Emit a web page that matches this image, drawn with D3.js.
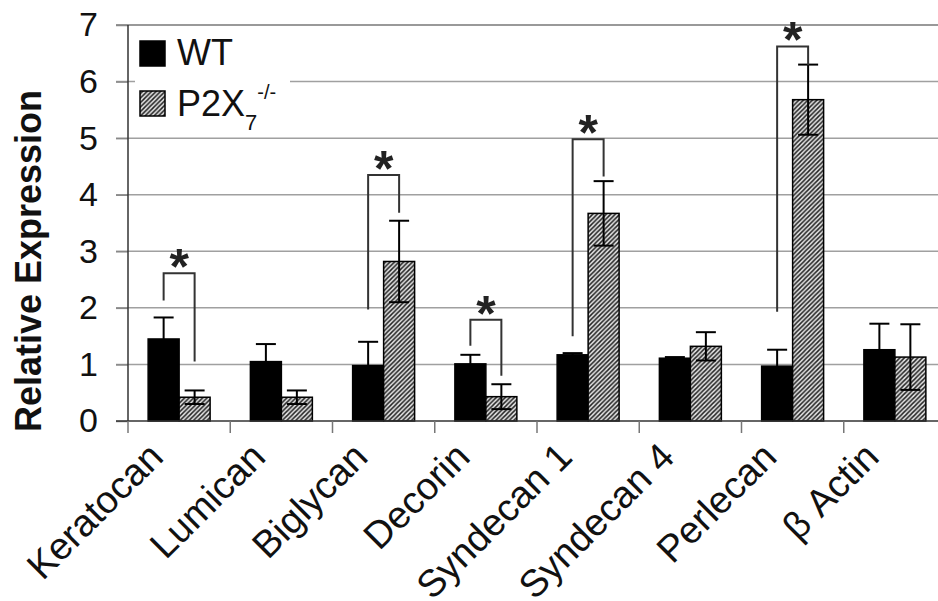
<!DOCTYPE html>
<html>
<head>
<meta charset="utf-8">
<script src="https://cdn.jsdelivr.net/npm/d3@7"></script>
<style>
  body { margin: 0; background: #fff; }
  svg { display: block; font-family: "Liberation Sans", Arial, sans-serif; }
</style>
</head>
<body>
<svg width="938" height="601"></svg>
<script>
// data
const genes = ['Keratocan', 'Lumican', 'Biglycan', 'Decorin', 'Syndecan 1', 'Syndecan 4', 'Perlecan', 'β Actin'];
const groups = ['WT', 'P2X7'];
const wtMean = [1.45, 1.05, 0.98, 1.01, 1.17, 1.11, 0.97, 1.26];
const wtErr = [0.38, 0.31, 0.42, 0.16, 0.03, 0.02, 0.29, 0.46];
const koMean = [0.42, 0.42, 2.82, 0.43, 3.67, 1.32, 5.68, 1.13];
const koErr = [0.12, 0.12, 0.72, 0.22, 0.57, 0.25, 0.62, 0.58];
const yTicks = [0, 1, 2, 3, 4, 5, 6, 7];

// significance brackets: gene, top of bracket, bottom of WT leg, bottom of KO leg
const sigGene = ['Keratocan', 'Biglycan', 'Decorin', 'Syndecan 1', 'Perlecan'];
const sigTop = [2.61, 4.35, 1.79, 4.98, 6.62];
const sigLeftEnd = [2.13, 1.97, 1.33, 1.50, 1.93];
const sigRightEnd = [1.05, 3.68, 0.80, 4.32, 6.29];

const svg = d3.select('svg');
const width = +svg.attr('width');

const rows = genes.map((g, i) => ({
  gene: g,
  values: [
    { key: 'WT', mean: wtMean[i], err: wtErr[i] },
    { key: 'P2X7', mean: koMean[i], err: koErr[i] }
  ]
}));

/* ---------- scales ---------- */
const x0 = d3.scaleBand().domain(genes).range([128, 946]).paddingInner(0).paddingOuter(0);
const x1 = d3.scaleBand().domain(groups).range([0, x0.bandwidth()]).paddingInner(0).paddingOuter(0.65);
const y = d3.scaleLinear().domain([0, 7]).range([421, 25]);

/* ---------- hatch pattern ---------- */
const defs = svg.append('defs');
const pat = defs.append('pattern')
  .attr('id', 'hatch')
  .attr('patternUnits', 'userSpaceOnUse')
  .attr('width', 4.5).attr('height', 4.5);
pat.append('rect').attr('width', 4.5).attr('height', 4.5).attr('fill', '#e4e4e4');
pat.append('path')
  .attr('d', 'M0,4.5 L4.5,0 M-1,1 L1,-1 M3.5,5.5 L5.5,3.5')
  .attr('stroke', '#222').attr('stroke-width', 1.5);

const fillFor = (k) => k === 'WT' ? '#000' : 'url(#hatch)';

/* ---------- gridlines ---------- */
svg.append('g').selectAll('line')
  .data(yTicks.filter(t => t > 0))
  .join('line')
  .attr('x1', 116).attr('x2', width)
  .attr('y1', d => y(d)).attr('y2', d => y(d))
  .attr('stroke', d => d === 7 ? '#777' : '#a0a0a0')
  .attr('stroke-width', 1.5);

/* ---------- y axis (ticks + labels) ---------- */
const yAxis = svg.append('g')
  .attr('transform', 'translate(128,0)')
  .call(d3.axisLeft(y).tickValues(yTicks).tickSize(12).tickPadding(18).tickFormat(d3.format('d')));
yAxis.select('.domain').remove();
yAxis.selectAll('.tick line').attr('stroke', '#888').attr('stroke-width', 1.5);
yAxis.selectAll('.tick text')
  .attr('font-size', 34)
  .attr('font-family', '"Liberation Sans", Arial, sans-serif')
  .attr('fill', '#111');

/* ---------- bars ---------- */
const gBars = svg.append('g');
const cat = gBars.selectAll('g.cat')
  .data(rows)
  .join('g')
  .attr('class', 'cat')
  .attr('transform', d => `translate(${x0(d.gene)},0)`);

cat.selectAll('rect')
  .data(d => d.values)
  .join('rect')
  .attr('x', d => x1(d.key))
  .attr('y', d => y(d.mean))
  .attr('width', x1.bandwidth())
  .attr('height', d => y(0) - y(d.mean))
  .attr('fill', d => fillFor(d.key))
  .attr('stroke', '#000')
  .attr('stroke-width', 1.5);

// error bars (symmetric)
const err = cat.selectAll('g.err')
  .data(d => d.values)
  .join('g')
  .attr('class', 'err')
  .attr('stroke', '#000')
  .attr('stroke-width', 2);
err.append('line')
  .attr('x1', d => x1(d.key) + x1.bandwidth() / 2)
  .attr('x2', d => x1(d.key) + x1.bandwidth() / 2)
  .attr('y1', d => y(d.mean + d.err))
  .attr('y2', d => y(Math.max(0, d.mean - d.err)));
err.append('line')
  .attr('x1', d => x1(d.key) + x1.bandwidth() / 2 - 10)
  .attr('x2', d => x1(d.key) + x1.bandwidth() / 2 + 10)
  .attr('y1', d => y(d.mean + d.err))
  .attr('y2', d => y(d.mean + d.err));
err.filter(d => d.key === 'P2X7').append('line')
  .attr('x1', d => x1(d.key) + x1.bandwidth() / 2 - 10)
  .attr('x2', d => x1(d.key) + x1.bandwidth() / 2 + 10)
  .attr('y1', d => y(Math.max(0, d.mean - d.err)))
  .attr('y2', d => y(Math.max(0, d.mean - d.err)));

/* ---------- axis lines ---------- */
svg.append('line')
  .attr('x1', 128).attr('x2', 128).attr('y1', y(7)).attr('y2', y(0))
  .attr('stroke', '#333').attr('stroke-width', 1.5);
svg.append('line')
  .attr('x1', 116).attr('x2', width).attr('y1', y(0)).attr('y2', y(0))
  .attr('stroke', '#333').attr('stroke-width', 1.5);

// category separator ticks
svg.append('g').selectAll('line')
  .data(genes)
  .join('line')
  .attr('x1', d => x0(d)).attr('x2', d => x0(d))
  .attr('y1', y(0)).attr('y2', y(0) + 12)
  .attr('stroke', '#777').attr('stroke-width', 1.5);

// category labels, rotated
svg.append('g').selectAll('text')
  .data(genes)
  .join('text')
  .attr('transform', d => `translate(${x0(d) + x0.bandwidth() / 2 - 14},459) rotate(-45)`)
  .attr('text-anchor', 'end')
  .attr('font-size', 38)
  .attr('fill', '#111')
  .text(d => d);

/* ---------- significance brackets ---------- */
const sig = sigGene.map((g, i) => ({ gene: g, top: sigTop[i], l: sigLeftEnd[i], r: sigRightEnd[i] }));
const cx = (g, k) => x0(g) + x1(k) + x1.bandwidth() / 2;
const gSig = svg.append('g');
gSig.selectAll('path')
  .data(sig)
  .join('path')
  .attr('d', d => {
    const xl = cx(d.gene, 'WT'), xr = cx(d.gene, 'P2X7');
    return `M${xl},${y(d.l)} V${y(d.top)} H${xr} V${y(d.r)}`;
  })
  .attr('fill', 'none')
  .attr('stroke', '#333')
  .attr('stroke-width', 2);
gSig.selectAll('text')
  .data(sig)
  .join('text')
  .attr('x', d => (cx(d.gene, 'WT') + cx(d.gene, 'P2X7')) / 2)
  .attr('y', d => y(d.top) + 11)
  .attr('text-anchor', 'middle')
  .attr('font-size', 50)
  .attr('font-weight', 'bold')
  .attr('fill', '#222')
  .text('*');

/* ---------- y title ---------- */
svg.append('text')
  .attr('transform', `translate(41,${(y(0) + y(7)) / 2 + 38}) rotate(-90)`)
  .attr('text-anchor', 'middle')
  .attr('font-size', 36)
  .attr('font-weight', 'bold')
  .attr('fill', '#111')
  .text('Relative Expression');

/* ---------- legend ---------- */
const lg = svg.append('g');
lg.append('rect')
  .attr('x', 135).attr('y', 28).attr('width', 155).attr('height', 106)
  .attr('fill', '#fff');
const legendItems = [
  { key: 'WT', y: 41 },
  { key: 'P2X7', y: 91 }
];
lg.selectAll('rect.sw')
  .data(legendItems)
  .join('rect')
  .attr('class', 'sw')
  .attr('x', 140).attr('y', d => d.y)
  .attr('width', 25).attr('height', 25)
  .attr('fill', d => fillFor(d.key))
  .attr('stroke', '#000').attr('stroke-width', 1.5);
lg.append('text')
  .attr('x', 177).attr('y', 65)
  .attr('font-size', 36).attr('fill', '#111')
  .text('WT');
const t2 = lg.append('text')
  .attr('x', 177).attr('y', 116)
  .attr('font-size', 36).attr('fill', '#111');
t2.append('tspan').text('P2X');
t2.append('tspan').attr('font-size', 22).attr('dy', 14).text('7');
t2.append('tspan').attr('font-size', 20).attr('dy', -31).text('-/-');
</script>
</body>
</html>
